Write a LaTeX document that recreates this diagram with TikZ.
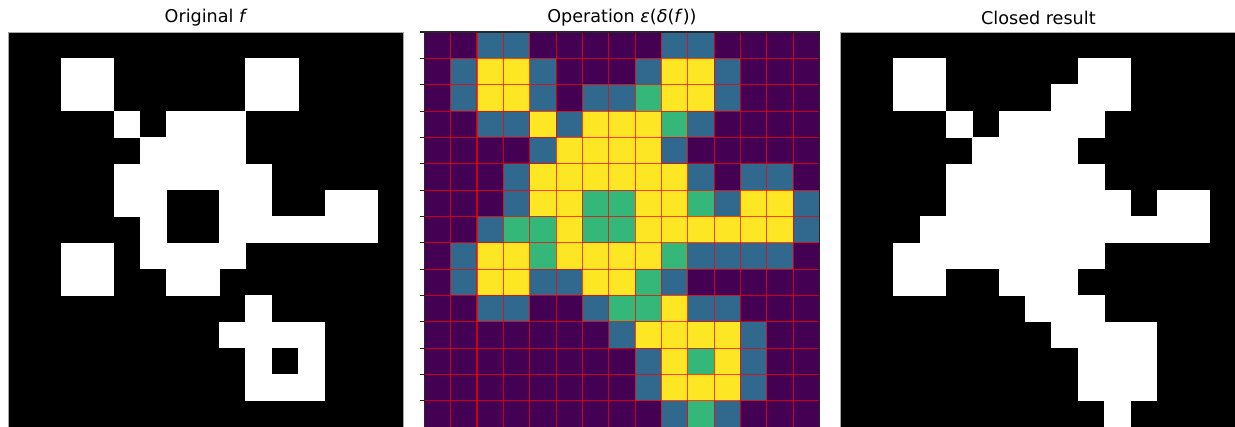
\documentclass[tikz,border=0pt]{standalone}
\usepackage{fontspec}
\setmainfont{DejaVu Sans}
\definecolor{v0}{HTML}{440154}
\definecolor{v1}{HTML}{31688E}
\definecolor{v2}{HTML}{35B779}
\definecolor{v3}{HTML}{FDE725}
\begin{document}
\begin{tikzpicture}[x=0.75pt,y=-0.75pt,
  titletext/.style={font=\fontsize{13.2}{15}\selectfont, anchor=center},
  gridline/.style={red, opacity=0.72, line width=0.8pt},
  panelborder/.style={draw=gray!70, line width=0.5pt}]
\useasboundingbox (0,0) rectangle (1235,427);
\clip (0,0) rectangle (1235,427);
\def\cs{26.35}
% ---------- Panel 1: Original f ----------
\def\xa{8.5}
\def\ya{32}
\fill[black] (\xa,\ya) rectangle ++(15*\cs,15*\cs);
\foreach \vals [count=\r from 0] in {
 {0,0,0,0,0,0,0,0,0,0,0,0,0,0,0},
 {0,0,1,1,0,0,0,0,0,1,1,0,0,0,0},
 {0,0,1,1,0,0,0,0,0,1,1,0,0,0,0},
 {0,0,0,0,1,0,1,1,1,0,0,0,0,0,0},
 {0,0,0,0,0,1,1,1,1,0,0,0,0,0,0},
 {0,0,0,0,1,1,1,1,1,1,0,0,0,0,0},
 {0,0,0,0,1,1,0,0,1,1,0,0,1,1,0},
 {0,0,0,0,0,1,0,0,1,1,1,1,1,1,0},
 {0,0,1,1,0,1,1,1,1,0,0,0,0,0,0},
 {0,0,1,1,0,0,1,1,0,0,0,0,0,0,0},
 {0,0,0,0,0,0,0,0,0,1,0,0,0,0,0},
 {0,0,0,0,0,0,0,0,1,1,1,1,0,0,0},
 {0,0,0,0,0,0,0,0,0,1,0,1,0,0,0},
 {0,0,0,0,0,0,0,0,0,1,1,1,0,0,0},
 {0,0,0,0,0,0,0,0,0,0,0,0,0,0,0}}
 {\foreach \v [count=\c from 0] in \vals {
   \ifnum\v=1 \fill[white] ({\xa+\c*\cs-0.2},{\ya+\r*\cs-0.2}) rectangle ++({\cs+0.4},{\cs+0.4});\fi}}
\draw[panelborder] (\xa,\ya) rectangle ++(15*\cs,15*\cs);
\node[titletext] (t1) at ({\xa+7.5*\cs},18) {Original \textit{f}};
% ---------- Panel 2: Operation ----------
\def\xb{424.3}
\foreach \vals [count=\r from 0] in {
 {0,0,1,1,0,0,0,0,0,1,1,0,0,0,0},
 {0,1,3,3,1,0,0,0,1,3,3,1,0,0,0},
 {0,1,3,3,1,0,1,1,2,3,3,1,0,0,0},
 {0,0,1,1,3,1,3,3,3,2,1,0,0,0,0},
 {0,0,0,0,1,3,3,3,3,1,0,0,0,0,0},
 {0,0,0,1,3,3,3,3,3,3,1,0,1,1,0},
 {0,0,0,1,3,3,2,2,3,3,2,1,3,3,1},
 {0,0,1,2,2,3,2,2,3,3,3,3,3,3,1},
 {0,1,3,3,2,3,3,3,3,2,1,1,1,1,0},
 {0,1,3,3,1,1,3,3,2,1,0,0,0,0,0},
 {0,0,1,1,0,0,1,2,2,3,1,1,0,0,0},
 {0,0,0,0,0,0,0,1,3,3,3,3,1,0,0},
 {0,0,0,0,0,0,0,0,1,3,2,3,1,0,0},
 {0,0,0,0,0,0,0,0,1,3,3,3,1,0,0},
 {0,0,0,0,0,0,0,0,0,1,2,1,0,0,0}}
 {\foreach \v [count=\c from 0] in \vals {
   \fill[v\v] ({\xb+\c*\cs-0.2},{\ya+\r*\cs-0.2}) rectangle ++({\cs+0.4},{\cs+0.4});}}
\foreach \k in {1,...,14} {
  \draw[gridline] ({\xb+\k*\cs},\ya) -- ++(0,15*\cs);
  \draw[gridline] (\xb,{\ya+\k*\cs}) -- ++(15*\cs,0);}
\draw[black!85, line width=0.8pt] (\xb,{\ya+15*\cs}) -- (\xb,\ya) -- ++(15*\cs,0) -- ++(0,15*\cs);
\foreach \k in {0,...,14} {
  \draw[black!85, line width=0.8pt] (\xb,{\ya+\k*\cs}) -- ++(-4.5,0);}
\node[titletext] (t2) at ({\xb+7.5*\cs},18) {Operation \textit{ε}(\textit{δ}(\textit{f}))};
% ---------- Panel 3: Closed result ----------
\def\xc{840.8}
\fill[black] (\xc,\ya) rectangle ++(15*\cs,15*\cs);
\foreach \vals [count=\r from 0] in {
 {0,0,0,0,0,0,0,0,0,0,0,0,0,0,0},
 {0,0,1,1,0,0,0,0,0,1,1,0,0,0,0},
 {0,0,1,1,0,0,0,0,1,1,1,0,0,0,0},
 {0,0,0,0,1,0,1,1,1,1,0,0,0,0,0},
 {0,0,0,0,0,1,1,1,1,0,0,0,0,0,0},
 {0,0,0,0,1,1,1,1,1,1,0,0,0,0,0},
 {0,0,0,0,1,1,1,1,1,1,1,0,1,1,0},
 {0,0,0,1,1,1,1,1,1,1,1,1,1,1,0},
 {0,0,1,1,1,1,1,1,1,1,0,0,0,0,0},
 {0,0,1,1,0,0,1,1,1,0,0,0,0,0,0},
 {0,0,0,0,0,0,0,1,1,1,0,0,0,0,0},
 {0,0,0,0,0,0,0,0,1,1,1,1,0,0,0},
 {0,0,0,0,0,0,0,0,0,1,1,1,0,0,0},
 {0,0,0,0,0,0,0,0,0,1,1,1,0,0,0},
 {0,0,0,0,0,0,0,0,0,0,1,0,0,0,0}}
 {\foreach \v [count=\c from 0] in \vals {
   \ifnum\v=1 \fill[white] ({\xc+\c*\cs-0.2},{\ya+\r*\cs-0.2}) rectangle ++({\cs+0.4},{\cs+0.4});\fi}}
\draw[panelborder] (\xc,\ya) rectangle ++(15*\cs,15*\cs);
\node[titletext] (t3) at ({\xc+7.5*\cs},18) {Closed result};
\end{tikzpicture}
\end{document}
